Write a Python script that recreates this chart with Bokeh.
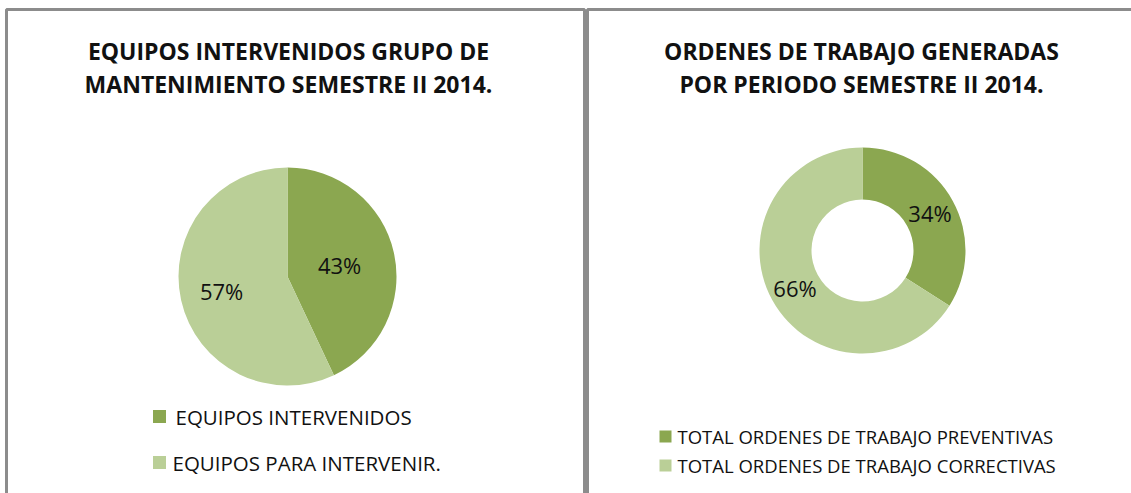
import math
from bokeh.plotting import figure
from bokeh.models import Range1d, ColumnDataSource
from bokeh.core.properties import value
from bokeh.embed import file_html
from bokeh.resources import INLINE

# ---- data ----
left_title = ["EQUIPOS INTERVENIDOS GRUPO DE", "MANTENIMIENTO SEMESTRE II 2014."]
left_labels = ["EQUIPOS INTERVENIDOS", "EQUIPOS PARA INTERVENIR."]
left_values = [43, 57]

right_title = ["ORDENES DE TRABAJO GENERADAS", "POR PERIODO SEMESTRE II 2014."]
right_labels = ["TOTAL ORDENES DE TRABAJO PREVENTIVAS", "TOTAL ORDENES DE TRABAJO CORRECTIVAS"]
right_values = [34, 66]

colors = ["#8BA750", "#BACF97"]

# ---- layout ----
W, H = 1131, 493
def X(px):
    return px
def Y(py):
    return H - py

FONT = value("Open Sans")

p = figure(width=W, height=H, output_backend="svg", toolbar_location=None,
           x_range=Range1d(0, W), y_range=Range1d(0, H), min_border=0)
p.axis.visible = False
p.grid.visible = False
p.outline_line_color = None
p.background_fill_color = "white"
p.border_fill_color = "white"

# panel frames
for (l, r) in [(6, 584), (587, 1140)]:
    p.multi_line(xs=[[X(l), X(l), X(r), X(r)]], ys=[[Y(505), Y(9), Y(9), Y(505)]],
                 line_color="#8c8c8c", line_width=3)


def slices(values):
    total = float(sum(values))
    starts, ends, mids = [], [], []
    cum = 0.0
    for v in values:
        a0 = math.pi / 2 - 2 * math.pi * cum / total
        cum += v
        a1 = math.pi / 2 - 2 * math.pi * cum / total
        starts.append(a0)
        ends.append(a1)
        mids.append((a0 + a1) / 2)
    pct = ["%d%%" % round(100 * v / total) for v in values]
    return starts, ends, mids, pct


def titles(lines, cx, ys):
    src = ColumnDataSource(dict(x=[X(cx)] * len(lines), y=[Y(y) for y in ys], t=lines))
    p.text(x="x", y="y", text="t", source=src, text_font=FONT, text_font_style="bold",
           text_font_size="23px", text_align="center", text_baseline="middle",
           text_color="#111111")


def legend(labels, sq_x, txt_x, ys, fs, sq):
    src = ColumnDataSource(dict(sx=[X(sq_x)] * len(labels), tx=[X(t) for t in txt_x],
                                y=[Y(y) for y in ys], t=labels, c=colors[:len(labels)]))
    p.scatter(x="sx", y="y", marker="square", size=sq, fill_color="c", line_color=None, source=src)
    p.text(x="tx", y="y", text="t", source=src, text_font=FONT, text_font_size=fs,
           text_align="left", text_baseline="middle", text_color="#111111")


# ---- left pie ----
cx1, cy1, r1 = 287, 276, 109
s, e, m, pct = slices(left_values)
src = ColumnDataSource(dict(x=[X(cx1)] * 2, y=[Y(cy1)] * 2, s=s, e=e, c=colors))
p.wedge(x="x", y="y", radius=r1, start_angle="s", end_angle="e", direction="clock",
        fill_color="c", line_color=None, source=src)
frac1 = [0.49, 0.62]
lx = [X(cx1) + r1 * f * math.cos(a) for f, a in zip(frac1, m)]
ly = [Y(cy1) + r1 * f * math.sin(a) for f, a in zip(frac1, m)]
p.text(x=lx, y=ly, text=pct, text_font=FONT, text_font_size="22px",
       text_align="center", text_baseline="middle", text_color="#111111")
titles(left_title, 288, [50, 83])
legend(left_labels, 159, [175, 172], [416, 462], "20.5px", 13)

# ---- right donut ----
cx2, cy2, ro, ri = 862, 250, 103, 51
s, e, m, pct = slices(right_values)
src = ColumnDataSource(dict(x=[X(cx2)] * 2, y=[Y(cy2)] * 2, s=s, e=e, c=colors))
p.annular_wedge(x="x", y="y", inner_radius=ri, outer_radius=ro, start_angle="s", end_angle="e",
                direction="clock", fill_color="c", line_color=None, source=src)
rm = (ri + ro) / 2
lx = [X(cx2) + rm * math.cos(a) for a in m]
ly = [Y(cy2) + rm * math.sin(a) for a in m]
p.text(x=lx, y=ly, text=pct, text_font=FONT, text_font_size="22px",
       text_align="center", text_baseline="middle", text_color="#111111")
titles(right_title, 861, [50, 83])
legend(right_labels, 665, [677, 677], [436, 465], "18.5px", 12)

open("out.html", "w").write(file_html(p, INLINE))
